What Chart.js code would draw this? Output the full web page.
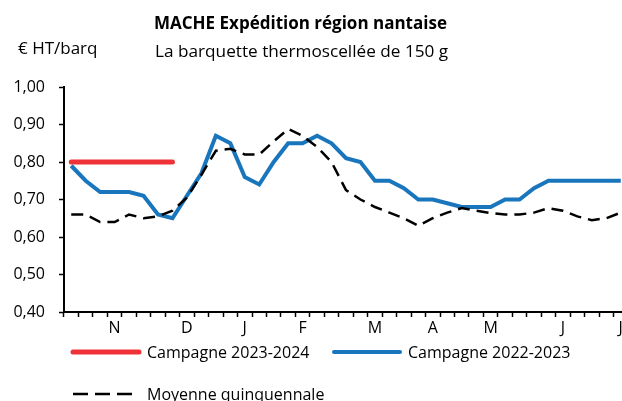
<!DOCTYPE html>
<html>
<head>
<meta charset="utf-8">
<script src="https://cdn.jsdelivr.net/npm/chart.js@4"></script>
<style>
  html, body { margin: 0; padding: 0; background: #fff; overflow: hidden; }
  #wrap { position: relative; width: 628px; height: 401px; }
</style>
</head>
<body>
<div id="wrap"><canvas id="myChart"></canvas></div>
<script>
// weeks from late October to early July, month initial under its week
let weekLabels = ['', '', '', 'N', '', '', '', '', 'D', '', '', '', 'J', '', '', '', 'F', '', '', '', '',
  'M', '', '', '', 'A', '', '', '', 'M', '', '', '', '', 'J', '', '', '', 'J'];
let campagne2324 = [0.80, 0.80, 0.80, 0.80, 0.80, 0.80, 0.80, 0.80];
let campagne2223 = [0.79, 0.75, 0.72, 0.72, 0.72, 0.71, 0.66, 0.65, 0.71, 0.77, 0.87, 0.85, 0.76, 0.74, 0.80,
  0.85, 0.85, 0.87, 0.85, 0.81, 0.80, 0.75, 0.75, 0.73, 0.70, 0.70, 0.69, 0.68, 0.68, 0.68, 0.70, 0.70, 0.73,
  0.75, 0.75, 0.75, 0.75, 0.75, 0.75];
let moyenne5ans = [0.66, 0.66, 0.64, 0.64, 0.66, 0.65, 0.655, 0.67, 0.705, 0.766, 0.83, 0.835, 0.82, 0.82, 0.855,
  0.888, 0.87, 0.84, 0.80, 0.725, 0.70, 0.68, 0.665, 0.65, 0.63, 0.65, 0.665, 0.677, 0.67, 0.664, 0.66, 0.66,
  0.665, 0.677, 0.67, 0.655, 0.645, 0.65, 0.665];
let yTicks = { min: 0.4, max: 1.0, step: 0.1 };

const FONT = 'Open Sans';

// title, unit and legend drawn by hand to sit where the original has them
const decor = {
  id: 'decor',
  afterDraw(chart) {
    const c = chart.ctx;
    c.save();
    c.fillStyle = '#000';
    c.textBaseline = 'alphabetic';
    c.textAlign = 'left';
    c.font = 'bold 17px "' + FONT + '"';
    c.fillText('MACHE Expédition région nantaise', 154, 29);
    c.font = '17.2px "' + FONT + '"';
    c.fillText('La barquette thermoscellée de 150 g', 155, 57);
    c.font = '17px "' + FONT + '"';
    c.fillText('€ HT/barq', 18, 54);

    const items = [
      { ds: 0, x: 71, y: 352 },
      { ds: 1, x: 332, y: 352 },
      { ds: 2, x: 71, y: 394 }
    ];
    items.forEach(it => {
      const d = chart.data.datasets[it.ds];
      c.beginPath();
      c.strokeStyle = d.borderColor;
      c.lineWidth = d.legendWidth;
      c.lineCap = d.borderDash ? 'butt' : 'round';
      c.setLineDash(d.borderDash ? [15, 7] : []);
      c.moveTo(it.x + 2, it.y);
      c.lineTo(it.x + 68, it.y);
      c.stroke();
      c.setLineDash([]);
      c.font = '16px "' + FONT + '"';
      c.fillStyle = '#000';
      c.textBaseline = 'middle';
      c.fillText(d.label, it.x + 76, it.y + 1);
    });
    c.restore();
  }
};

const ctx = document.getElementById('myChart').getContext('2d');
const myChart = new Chart(ctx, {
  type: 'line',
  data: {
    labels: weekLabels,
    datasets: [
      {
        label: 'Campagne 2023-2024',
        data: campagne2324,
        borderColor: '#ee3237',
        borderWidth: 5,
        legendWidth: 5,
        borderCapStyle: 'round',
        pointRadius: 0,
        fill: false,
        order: 0
      },
      {
        label: 'Campagne 2022-2023',
        data: campagne2223,
        borderColor: '#1a76bc',
        borderWidth: 4,
        legendWidth: 4,
        pointRadius: 0,
        fill: false,
        order: 2
      },
      {
        label: 'Moyenne quinquennale',
        data: moyenne5ans,
        borderColor: '#000',
        borderWidth: 2.5,
        legendWidth: 2.5,
        borderDash: [12, 7],
        pointRadius: 0,
        fill: false,
        order: 1
      }
    ]
  },
  options: {
    responsive: true,
    maintainAspectRatio: false,
    animation: false,
    layout: { padding: { top: 87, left: 4, right: 0, bottom: 64 } },
    plugins: {
      legend: { display: false },
      title: { display: false },
      tooltip: { enabled: false }
    },
    scales: {
      x: {
        offset: true,
        grid: { offset: true, drawOnChartArea: false, drawTicks: true, tickLength: 5, tickColor: '#000', tickWidth: 1.5 },
        border: { color: '#000', width: 2 },
        ticks: {
          autoSkip: false, maxRotation: 0, padding: 2, color: '#000',
          font: { family: FONT, size: 16 }
        },
        afterFit(scale) { scale.height = 25; }
      },
      y: {
        min: yTicks.min,
        max: yTicks.max,
        grid: { drawOnChartArea: false, drawTicks: true, tickLength: 5, tickColor: '#000', tickWidth: 1.5 },
        border: { color: '#000', width: 2 },
        ticks: {
          stepSize: yTicks.step, padding: 14, color: '#000',
          font: { family: FONT, size: 16 },
          callback: v => v.toFixed(2).replace('.', ',')
        },
        afterFit(scale) { scale.width = 60; }
      }
    }
  },
  plugins: [decor]
});
</script>
</body>
</html>
